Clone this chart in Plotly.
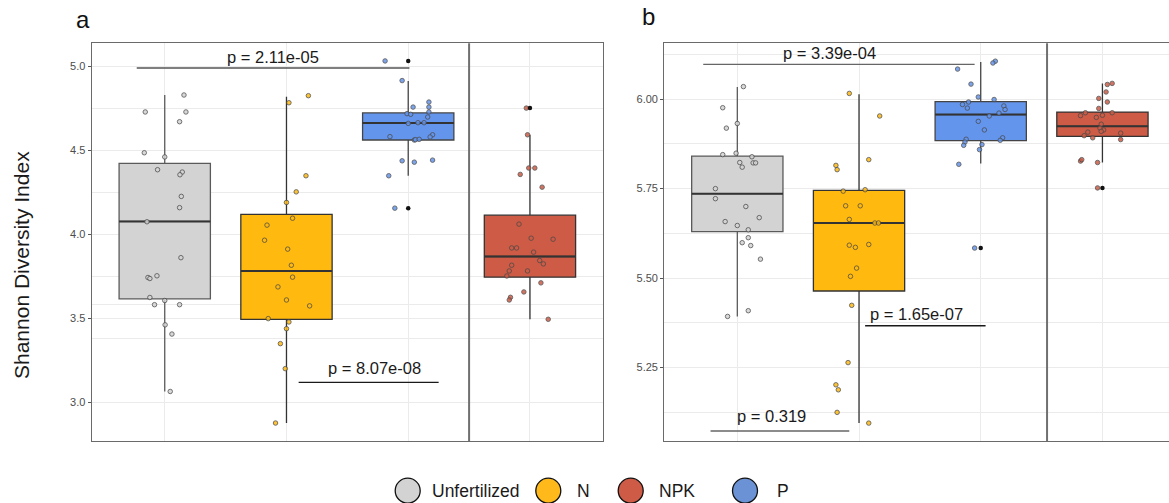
import plotly.graph_objects as go

# ---------------- data ----------------
groups = ["Unfertilized", "N", "P", "NPK"]
legend_order = ["Unfertilized", "N", "NPK", "P"]
box_colors = {"Unfertilized": "#D3D3D3", "N": "#FFB90F", "P": "#6495ED", "NPK": "#CD5B45"}
legend_colors = {"Unfertilized": "#D3D3D3", "N": "#FFB91A", "NPK": "#CD5B45", "P": "#6B92D4"}

# Panel a - Shannon diversity (values and horizontal jitter)
a_unf_vals = [4.831, 4.730, 4.730, 4.672, 4.487, 4.462, 4.386, 4.372, 4.356, 4.227, 4.160, 4.076,
              3.862, 3.744, 3.738, 3.754, 3.625, 3.582, 3.607, 3.582, 3.462, 3.407, 3.065]
a_unf_jit = [0.158, -0.160, 0.174, 0.122, -0.168, 0.0, -0.059, 0.144, 0.125, 0.136, 0.122, -0.146,
             0.133, -0.138, -0.122, -0.064, -0.122, -0.084, 0.0, 0.122, 0.003, 0.059, 0.045]
a_n_vals = [4.827, 4.785, 4.350, 4.254, 4.191, 4.097, 4.056, 3.966, 3.913, 3.817, 3.746, 3.688,
            3.610, 3.575, 3.499, 3.479, 3.439, 3.350, 3.201, 2.877]
a_n_jit = [0.18, 0.02, 0.16, 0.08, 0.0, 0.05, -0.16, -0.18, 0.01, 0.04, 0.05, -0.07,
           0.0, 0.19, -0.15, 0.02, 0.0, -0.05, -0.01, -0.09]
a_p_vals = [5.034, 4.917, 4.759, 4.789, 4.759, 4.730, 4.720, 4.716, 4.700, 4.662, 4.666, 4.666,
            4.594, 4.581, 4.583, 4.563, 4.565, 4.567, 4.439, 4.431, 4.443, 4.350, 4.157]
a_p_jit = [-0.19, -0.05, 0.04, 0.17, 0.17, 0.17, -0.01, 0.02, 0.16, 0.0, 0.08, 0.13,
           0.20, 0.18, -0.15, 0.05, 0.06, 0.09, -0.05, 0.05, 0.20, -0.16, -0.11]
a_npk_vals = [4.753, 4.594, 4.358, 4.396, 4.396, 4.282, 4.062, 3.978, 3.972, 3.920, 3.920, 3.895,
              3.845, 3.825, 3.817, 3.783, 3.783, 3.753, 3.712, 3.658, 3.626, 3.610, 3.495]
a_npk_jit = [-0.03, -0.02, -0.08, -0.01, 0.04, 0.10, -0.09, 0.01, 0.19, -0.15, -0.11, 0.03,
             0.08, 0.11, -0.15, -0.17, -0.02, -0.19, 0.09, -0.05, -0.16, -0.17, 0.15]
# box statistics: lower whisker, Q1, median, Q3, upper whisker
a_lower = [3.065, 2.877, 4.350, 3.495]
a_q1 = [3.617, 3.495, 4.563, 3.746]
a_median = [4.078, 3.783, 4.664, 3.869]
a_q3 = [4.424, 4.120, 4.724, 4.115]
a_upper = [4.831, 4.821, 4.915, 4.594]
a_outlier_groups = ["P", "P", "NPK"]
a_outlier_vals = [5.034, 4.157, 4.753]

# Panel b
b_unf_vals = [6.035, 5.976, 5.919, 5.932, 5.845, 5.849, 5.839, 5.823, 5.810, 5.822, 5.822, 5.750,
              5.722, 5.700, 5.658, 5.669, 5.647, 5.635, 5.613, 5.599, 5.591, 5.553, 5.409, 5.393]
b_unf_jit = [0.05, -0.12, -0.09, 0.0, -0.12, -0.01, 0.12, 0.02, 0.04, 0.13, 0.15, -0.18,
             -0.18, 0.07, -0.10, 0.18, 0.0, 0.09, 0.09, 0.04, 0.11, 0.19, 0.09, -0.08]
b_n_vals = [6.016, 5.953, 5.831, 5.815, 5.803, 5.743, 5.747, 5.702, 5.702, 5.664, 5.654, 5.654,
            5.592, 5.586, 5.594, 5.528, 5.505, 5.424, 5.264, 5.202, 5.188, 5.125, 5.095]
b_n_jit = [-0.08, 0.17, 0.08, -0.19, -0.18, -0.13, 0.05, -0.11, 0.01, -0.08, 0.13, 0.16,
           -0.08, -0.03, 0.08, -0.02, -0.07, -0.06, -0.09, -0.19, -0.17, -0.18, 0.08]
b_p_vals = [6.106, 6.101, 6.084, 6.042, 6.006, 5.999, 5.985, 5.992, 5.975, 5.981, 5.971, 5.961,
            5.953, 5.938, 5.914, 5.892, 5.885, 5.888, 5.880, 5.871, 5.873, 5.859, 5.818, 5.584]
b_p_jit = [0.12, 0.10, -0.19, -0.08, -0.02, 0.11, -0.15, -0.10, -0.11, 0.19, 0.20, 0.15,
           0.07, -0.02, 0.03, 0.18, 0.16, -0.12, -0.13, -0.14, 0.01, -0.01, -0.18, -0.05]
b_npk_vals = [6.041, 6.044, 6.020, 6.002, 5.992, 5.974, 5.962, 5.962, 5.954, 5.949, 5.955, 5.930,
              5.919, 5.914, 5.910, 5.908, 5.905, 5.898, 5.892, 5.887, 5.827, 5.831, 5.823, 5.752]
b_npk_jit = [0.04, 0.08, 0.03, -0.03, 0.04, -0.03, -0.14, 0.08, -0.18, -0.05, 0.0, -0.01,
             -0.02, 0.01, -0.01, -0.12, 0.15, -0.15, -0.08, 0.15, -0.18, -0.17, -0.04, -0.04]
b_lower = [5.393, 5.095, 5.820, 5.823]
b_q1 = [5.630, 5.464, 5.884, 5.896]
b_median = [5.736, 5.654, 5.957, 5.924]
b_q3 = [5.841, 5.745, 5.993, 5.964]
b_upper = [6.034, 6.014, 6.104, 6.044]
b_outlier_groups = ["P", "NPK"]
b_outlier_vals = [5.584, 5.752]

# significance brackets: (group position start, end, y, label, label x, label y, line colour)
a_brackets = [(0.77, 3.01, 4.992, "p = 2.11e-05", 1.89, 5.060, "#555555"),
              (2.10, 3.25, 3.119, "p = 8.07e-08", 2.72, 3.203, "#1a1a1a")]
b_brackets = [(0.72, 2.95, 6.097, "p = 3.39e-04", 1.76, 6.129, "#666666"),
              (2.05, 3.04, 5.367, "p = 1.65e-07", 2.47, 5.399, "#1a1a1a"),
              (0.78, 1.92, 5.073, "p = 0.319", 1.28, 5.115, "#666666")]

a_ticks = [3.0, 3.5, 4.0, 4.5, 5.0]
a_ticktext = ["3.0", "3.5", "4.0", "4.5", "5.0"]
a_minor = [3.378, 3.585, 3.75, 4.25, 4.75]
b_ticks = [5.25, 5.50, 5.75, 6.00]
b_ticktext = ["5.25", "5.50", "5.75", "6.00"]
b_minor = [5.125, 5.375, 5.625, 5.875, 6.125]

# facet boundary (between P and NPK) for each panel
a_facet_sep = 3.5
b_facet_sep = 3.545

# ---------------- figure ----------------
W, H = 1169, 503
FONT = "Liberation Sans, Arial, sans-serif"
fig = go.Figure()

pos = {g: i + 1 for i, g in enumerate(groups)}
box_line = {"Unfertilized": "#5a5a5a", "N": "#333333", "P": "#444444", "NPK": "#333333"}


def add_panel(xa, ya, pts, lower, q1, med, q3, upper, out_g, out_v):
    for i, g in enumerate(groups):
        fig.add_trace(go.Box(
            x=[pos[g]], lowerfence=[lower[i]], q1=[q1[i]], median=[med[i]], q3=[q3[i]],
            upperfence=[upper[i]], width=0.75, whiskerwidth=0, boxpoints=False,
            fillcolor=box_colors[g], line=dict(color=box_line[g], width=1.3),
            xaxis=xa, yaxis=ya, showlegend=False, hoverinfo="skip"))
        # thicker median line (ggplot style)
        fig.add_trace(go.Scatter(
            x=[pos[g] - 0.375, pos[g] + 0.375], y=[med[i], med[i]], mode="lines",
            line=dict(color="#333333", width=2), xaxis=xa, yaxis=ya,
            showlegend=False, hoverinfo="skip"))
    for g, (vals, jit) in pts.items():
        fig.add_trace(go.Scatter(
            x=[pos[g] + j for j in jit], y=vals, mode="markers",
            marker=dict(size=4.5, color=box_colors[g], opacity=0.85,
                        line=dict(color="#4a4a4a", width=0.9)),
            xaxis=xa, yaxis=ya, showlegend=False, hoverinfo="skip"))
    fig.add_trace(go.Scatter(
        x=[pos[g] for g in out_g], y=out_v, mode="markers",
        marker=dict(size=4.5, color="#111111"), xaxis=xa, yaxis=ya,
        showlegend=False, hoverinfo="skip"))


add_panel("x", "y",
          {"Unfertilized": (a_unf_vals, a_unf_jit), "N": (a_n_vals, a_n_jit),
           "P": (a_p_vals, a_p_jit), "NPK": (a_npk_vals, a_npk_jit)},
          a_lower, a_q1, a_median, a_q3, a_upper, a_outlier_groups, a_outlier_vals)
add_panel("x2", "y2",
          {"Unfertilized": (b_unf_vals, b_unf_jit), "N": (b_n_vals, b_n_jit),
           "P": (b_p_vals, b_p_jit), "NPK": (b_npk_vals, b_npk_jit)},
          b_lower, b_q1, b_median, b_q3, b_upper, b_outlier_groups, b_outlier_vals)

shapes = []
annotations = []
for xr, yr, brs, sep in (("x", "y", a_brackets, a_facet_sep), ("x2", "y2", b_brackets, b_facet_sep)):
    for x0, x1, yv, lab, tx, ty, col in brs:
        shapes.append(dict(type="line", xref=xr, yref=yr, x0=x0, x1=x1, y0=yv, y1=yv,
                           line=dict(color=col, width=1.3)))
        annotations.append(dict(xref=xr, yref=yr, x=tx, y=ty, text=lab, showarrow=False,
                                xanchor="center", yanchor="middle",
                                font=dict(family=FONT, size=16.5, color="#1a1a1a")))
    # facet separator between the first three groups and NPK
    shapes.append(dict(type="line", xref=xr, yref=yr + " domain", x0=sep, x1=sep, y0=0, y1=1,
                       line=dict(color="#707070", width=2)))

# panel tags and axis title
annotations.append(dict(xref="paper", yref="paper", x=74 / W, y=1 - 20 / H, text="a",
                        showarrow=False, xanchor="left", yanchor="middle",
                        font=dict(family=FONT, size=24, color="#111111")))
annotations.append(dict(xref="paper", yref="paper", x=640 / W, y=1 - 17 / H, text="b",
                        showarrow=False, xanchor="left", yanchor="middle",
                        font=dict(family=FONT, size=24, color="#111111")))
annotations.append(dict(xref="paper", yref="paper", x=21 / W, y=1 - 265 / H,
                        text="Shannon Diversity Index", textangle=-90, showarrow=False,
                        xanchor="center", yanchor="middle",
                        font=dict(family=FONT, size=21, color="#1a1a1a")))

# legend (manual, large circular keys)
leg_key_x = {"Unfertilized": 407.7, "N": 548.3, "NPK": 630.7, "P": 745.0}
leg_text_x = {"Unfertilized": 430, "N": 575, "NPK": 656.7, "P": 775}
leg_y = 490.7
r = 12.5
for g in legend_order:
    cx = leg_key_x[g]
    shapes.append(dict(type="circle", xref="paper", yref="paper",
                       x0=(cx - r) / W, x1=(cx + r) / W, y0=1 - (leg_y + r) / H, y1=1 - (leg_y - r) / H,
                       fillcolor=legend_colors[g], line=dict(color="#111111", width=1.3)))
    annotations.append(dict(xref="paper", yref="paper", x=leg_text_x[g] / W, y=1 - leg_y / H,
                            text=g, showarrow=False, xanchor="left", yanchor="middle",
                            font=dict(family=FONT, size=17.5, color="#1a1a1a")))

grid_col = "#EBEBEB"
ydom = [1 - 441 / H, 1 - 43.3 / H]
xaxis_common = dict(tickvals=[1, 2, 3, 4], showticklabels=False, ticks="", showgrid=True,
                    gridcolor=grid_col, gridwidth=1, zeroline=False, showline=True,
                    linecolor="#6a6a6a", linewidth=1.3, mirror=True)
yaxis_common = dict(ticks="outside", ticklen=3, tickcolor="#555555", tickwidth=1,
                    showgrid=True, gridcolor=grid_col, gridwidth=1, zeroline=False,
                    showline=True, linecolor="#6a6a6a", linewidth=1.3,
                    tickfont=dict(family=FONT, size=11, color="#4d4d4d"))

fig.update_layout(
    width=W, height=H, margin=dict(l=0, r=0, t=0, b=0),
    paper_bgcolor="white", plot_bgcolor="white", showlegend=False,
    xaxis=dict(domain=[91.7 / W, 603 / W], range=[0.4, 4.6], **xaxis_common),
    yaxis=dict(domain=ydom, range=[2.770, 5.139], tickvals=a_ticks, ticktext=a_ticktext,
               mirror=True, minor=dict(tickvals=a_minor, showgrid=True, gridcolor=grid_col,
                                       gridwidth=1, ticks=""), **yaxis_common),
    xaxis2=dict(domain=[664.3 / W, 1.0], range=[0.4, 4.547], anchor="y2", **xaxis_common),
    yaxis2=dict(domain=ydom, range=[5.045, 6.156], anchor="x2", tickvals=b_ticks,
                ticktext=b_ticktext, minor=dict(tickvals=b_minor, showgrid=True,
                                                gridcolor=grid_col, gridwidth=1, ticks=""),
                **yaxis_common),
    shapes=shapes, annotations=annotations,
)

fig.write_html("out.html", config={"displayModeBar": False},
               post_script="document.body.style.margin='0';document.body.style.padding='0';"
                           "document.body.style.overflow='hidden';")
